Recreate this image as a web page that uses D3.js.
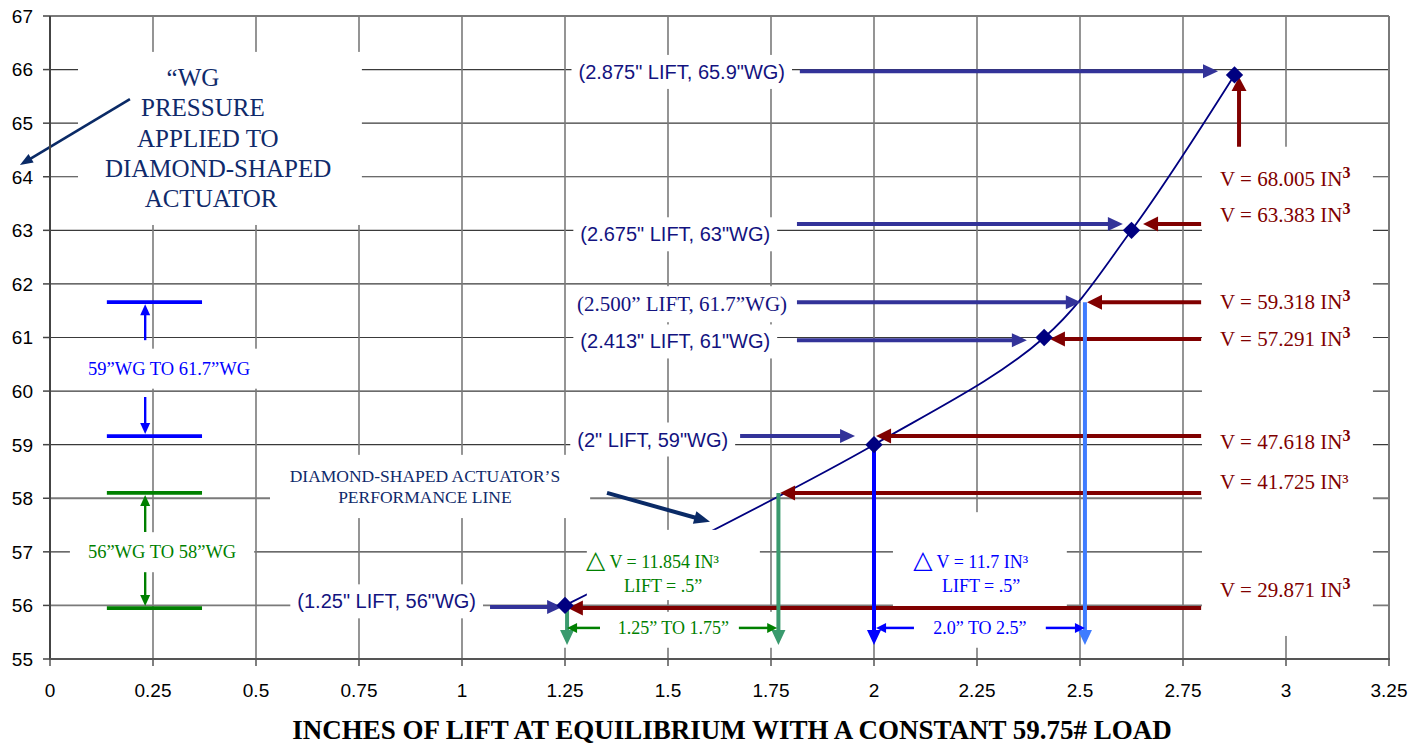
<!DOCTYPE html>
<html>
<head>
<meta charset="utf-8">
<script src="https://cdn.jsdelivr.net/npm/d3@7"></script>
<style>
  body { margin: 0; background: #fff; }
  svg { display: block; }
</style>
</head>
<body>
<svg id="chart" width="1428" height="745"></svg>
<script>
'use strict';

// performance line of the diamond-shaped actuator (diamond markers)
const lift = [1.25, 2.0, 2.413, 2.625, 2.875];
const wg = [56, 59, 61, 63, 65.9];

const xTicks = [0, 0.25, 0.5, 0.75, 1, 1.25, 1.5, 1.75, 2, 2.25, 2.5, 2.75, 3, 3.25];
const xTickLabels = ['0', '0.25', '0.5', '0.75', '1', '1.25', '1.5', '1.75', '2', '2.25', '2.5', '2.75', '3', '3.25'];
const yTicks = [55, 56, 57, 58, 59, 60, 61, 62, 63, 64, 65, 66, 67];

// lift call-outs (label -> point)
const liftNotes = ['(1.25" LIFT, 56"WG)', '(2" LIFT, 59"WG)', '(2.413" LIFT, 61"WG)',
  '(2.500\u201D LIFT, 61.7\u201DWG)', '(2.675" LIFT, 63"WG)', '(2.875" LIFT, 65.9"WG)'];
const liftNoteWG = [56.08, 59.1, 60.93, 61.62, 62.93, 65.96];
const liftNoteEnd = [1.034, 1.646, 1.748, 1.789, 1.748, 1.784];
const liftArrowWG = [55.97, 59.16, 60.95, 61.66, 63.12, 65.97];
const liftArrowFrom = [1.068, 1.675, 1.813, 1.813, 1.813, 1.82];
const liftArrowTo = [1.243, 1.954, 2.371, 2.502, 2.604, 2.835];

// volume call-outs (label <- point)
const volumes = ['68.005', '63.383', '59.318', '57.291', '47.618', '41.725', '29.871'];
const volLabelWG = [63.95, 63.28, 61.66, 60.97, 59.04, 58.3, 56.28];
const volArrowWG = [null, 63.12, 61.66, 60.97, 59.16, 58.1, 55.95];
const volArrowTip = [null, 2.653, 2.517, 2.427, 2.005, 1.772, 1.257];
const volUpLift = 2.886;
const volUpWG = [64.56, 65.86];

// drop lines down to the lift axis
const dropLift = [1.255, 1.768, 2.0, 2.512];
const dropFromWG = [55.95, 58.1, 59.0, 61.66];
const dropToWG = 55.26;

// lift spans
const spanWG = 55.58;
const greenSpan = [1.255, 1.765];
const greenSpanGap = [1.335, 1.672];
const blueSpan = [2.005, 2.512];
const blueSpanGap = [2.097, 2.417];

// pressure ranges on the left
const rangeBlueWG = [59.16, 61.66];
const rangeGreenWG = [55.95, 58.1];
const rangeLift = [0.138, 0.369];
const rangeArrowLift = 0.231;
const rangeBlueGap = [59.89, 60.95];
const rangeGreenGap = [56.62, 57.37];

const x = d3.scaleLinear().domain([0, 3.25]).range([50, 1389]);
const y = d3.scaleLinear().domain([55, 67]).range([659, 16]);

const SANS = 'Liberation Sans, Arial, sans-serif';
const SERIF = 'Liberation Serif, Times New Roman, serif';
const NAVY_TXT = '#0f2a6b';
const LIFT_TXT = '#131380';
const PURPLE = '#333399';
const RED = '#800000';
const GREEN = '#008000';
const SEA = '#3a9a6e';
const BLUE = '#0000ff';
const LBLUE = '#3f7cff';

const svg = d3.select('#chart');
const gridG = svg.append('g');
const curveG = svg.append('g');
const boxG = svg.append('g');
const textG = svg.append('g');
const arrowG = svg.append('g');
const markG = svg.append('g');
const axisG = svg.append('g');

// grid
gridG.selectAll('line.h').data(yTicks).enter().append('line')
  .attr('x1', x(0)).attr('x2', x(3.25))
  .attr('y1', d => y(d)).attr('y2', d => y(d))
  .attr('stroke', d => (d === 67 || d === 56 || d === 58 ? '#7a7a7a' : '#3a3a3a'))
  .attr('stroke-width', d => (d === 67 ? 2 : d === 56 || d === 58 ? 1.8 : 1.1));
gridG.selectAll('line.v').data(xTicks.slice(1)).enter().append('line')
  .attr('x1', d => x(d)).attr('x2', d => x(d))
  .attr('y1', y(67)).attr('y2', y(55))
  .attr('stroke', '#7a7a7a').attr('stroke-width', d => (d === 3.25 ? 2 : 1.6));

// performance line
const pts = lift.map((d, i) => [d, wg[i]]);
curveG.append('path')
  .datum(pts)
  .attr('d', d3.line().x(d => x(d[0])).y(d => y(d[1])).curve(d3.curveCatmullRom))
  .attr('fill', 'none').attr('stroke', '#000080').attr('stroke-width', 1.8);

function arrow(x1, y1, x2, y2, color, w, hl, hw) {
  const dx = x2 - x1, dy = y2 - y1, len = Math.hypot(dx, dy);
  const ux = dx / len, uy = dy / len;
  const bx = x2 - ux * hl, by = y2 - uy * hl;
  arrowG.append('line')
    .attr('x1', x1).attr('y1', y1).attr('x2', bx + ux).attr('y2', by + uy)
    .attr('stroke', color).attr('stroke-width', w);
  arrowG.append('path')
    .attr('d', `M${x2},${y2}L${bx - uy * hw / 2},${by + ux * hw / 2}L${bx + uy * hw / 2},${by - ux * hw / 2}Z`)
    .attr('fill', color);
}

function rect(x0, x1, y0, y1) {
  boxG.append('rect')
    .attr('x', x(x0)).attr('y', y(y0))
    .attr('width', x(x1) - x(x0)).attr('height', y(y1) - y(y0))
    .attr('fill', '#fff');
}

function boxed(t, px, py) {
  const b = t.node().getBBox();
  boxG.append('rect')
    .attr('x', b.x - px).attr('y', b.y - py)
    .attr('width', b.width + 2 * px).attr('height', b.height + 2 * py)
    .attr('fill', '#fff');
}

// "WG pressure" note
rect(0.068, 0.757, 66.33, 63.10);
const wgLines = ['\u201CWG', 'PRESSURE', 'APPLIED TO', 'DIAMOND-SHAPED', 'ACTUATOR'];
const wgCx = [0.347, 0.371, 0.383, 0.408, 0.391];
wgLines.forEach((s, i) => {
  textG.append('text')
    .attr('x', x(wgCx[i])).attr('y', y(65.69) + i * 30.3)
    .attr('text-anchor', 'middle')
    .attr('font-family', SERIF).attr('font-size', 25).attr('fill', NAVY_TXT)
    .text(s);
});
arrow(x(0.194), y(65.45), x(-0.073), y(64.22), '#0a2a66', 2.6, 13, 10);

// performance line note
rect(0.534, 1.311, 58.81, 57.63);
['DIAMOND-SHAPED ACTUATOR\u2019S', 'PERFORMANCE LINE'].forEach((s, i) => {
  textG.append('text')
    .attr('x', x(0.91)).attr('y', y(58.30) + i * 21)
    .attr('text-anchor', 'middle')
    .attr('font-family', SERIF).attr('font-size', 17.5).attr('fill', NAVY_TXT)
    .text(s);
});
arrow(x(1.352), y(58.1), x(1.602), y(57.56), '#0a2a66', 4, 16, 13);

// lift call-outs
liftNotes.forEach((s, i) => {
  const serif = s.indexOf('\u201D') >= 0;
  const t = textG.append('text')
    .attr('x', x(liftNoteEnd[i])).attr('y', y(liftNoteWG[i]))
    .attr('dy', serif ? '0.33em' : '0.36em')
    .attr('text-anchor', 'end')
    .attr('font-family', serif ? SERIF : SANS)
    .attr('font-size', serif ? 21 : 20)
    .attr('fill', LIFT_TXT)
    .text(s);
  boxed(t, 7, 6);
  arrow(x(liftArrowFrom[i]), y(liftArrowWG[i]), x(liftArrowTo[i]), y(liftArrowWG[i]), PURPLE, 4, 15, 14);
});

// volume call-outs
rect(2.796, 3.211, 64.56, 55.43);
volumes.forEach((v, i) => {
  const t = textG.append('text')
    .attr('x', x(2.84)).attr('y', y(volLabelWG[i])).attr('dy', '0.33em')
    .attr('font-family', SERIF).attr('font-size', 21).attr('fill', RED);
  if (v === '41.725') {
    t.text(`V = ${v} IN\u00B3`);
  } else {
    t.append('tspan').text(`V = ${v} IN`);
    t.append('tspan').attr('font-weight', 'bold').attr('font-size', 16).attr('dy', -8).text('3');
  }
  if (volArrowWG[i] !== null) {
    arrow(x(2.794), y(volArrowWG[i]), x(volArrowTip[i]), y(volArrowWG[i]), RED, 4, 15, 15);
  }
});
arrow(x(volUpLift), y(volUpWG[0]), x(volUpLift), y(volUpWG[1]), RED, 4, 14, 15);

// delta-V notes and spans
rect(1.303, 1.723, 57.41, 56.10);
rect(1.238, 1.760, 55.88, 55.21);
rect(2.046, 2.468, 57.74, 55.21);

function deltaNote(x0, cx2, color, vol) {
  const t = textG.append('text')
    .attr('x', x(x0)).attr('y', y(56.69))
    .attr('font-family', SERIF).attr('font-size', 18).attr('fill', color);
  t.append('tspan').attr('font-family', 'DejaVu Sans').attr('font-size', 25).text('\u25B3');
  t.append('tspan').text(` V = ${vol} IN\u00B3`);
  textG.append('text')
    .attr('x', x(cx2)).attr('y', y(56.25))
    .attr('text-anchor', 'middle')
    .attr('font-family', SERIF).attr('font-size', 18).attr('fill', color)
    .text('LIFT = .5\u201D');
}
deltaNote(1.301, 1.488, GREEN, '11.854');
deltaNote(2.095, 2.26, BLUE, '11.7');

textG.append('text')
  .attr('x', x(1.513)).attr('y', y(spanWG)).attr('dy', '0.33em')
  .attr('text-anchor', 'middle')
  .attr('font-family', SERIF).attr('font-size', 18).attr('fill', GREEN)
  .text('1.25\u201D TO 1.75\u201D');
textG.append('text')
  .attr('x', x(2.257)).attr('y', y(spanWG)).attr('dy', '0.33em')
  .attr('text-anchor', 'middle')
  .attr('font-family', SERIF).attr('font-size', 18).attr('fill', BLUE)
  .text('2.0\u201D TO 2.5\u201D');

// drop lines
const dropColor = [SEA, SEA, BLUE, LBLUE];
dropLift.forEach((d, i) => {
  arrow(x(d), y(dropFromWG[i]), x(d), y(dropToWG), dropColor[i], 4, 15, 14);
});

arrow(x(greenSpanGap[0]), y(spanWG), x(greenSpan[0]), y(spanWG), GREEN, 2.5, 10, 10);
arrow(x(greenSpanGap[1]), y(spanWG), x(greenSpan[1]), y(spanWG), GREEN, 2.5, 10, 10);
arrow(x(blueSpanGap[0]), y(spanWG), x(blueSpan[0]), y(spanWG), BLUE, 2.5, 10, 10);
arrow(x(blueSpanGap[1]), y(spanWG), x(blueSpan[1]), y(spanWG), BLUE, 2.5, 10, 10);

// pressure ranges on the left
function range(vals, gap, color, label, cx) {
  const t = textG.append('text')
    .attr('x', x(cx)).attr('y', y((gap[0] + gap[1]) / 2)).attr('dy', '0.33em')
    .attr('text-anchor', 'middle')
    .attr('font-family', SERIF).attr('font-size', 18.5).attr('fill', color)
    .text(label);
  boxed(t, 18, 10);
  vals.forEach(v => {
    arrowG.append('line')
      .attr('x1', x(rangeLift[0])).attr('x2', x(rangeLift[1]))
      .attr('y1', y(v)).attr('y2', y(v))
      .attr('stroke', color).attr('stroke-width', 3.6);
  });
  arrow(x(rangeArrowLift), y(gap[1]), x(rangeArrowLift), y(vals[1]) + 2, color, 2.4, 11, 10);
  arrow(x(rangeArrowLift), y(gap[0]), x(rangeArrowLift), y(vals[0]) - 2, color, 2.4, 11, 10);
}
range(rangeBlueWG, rangeBlueGap, BLUE, '59\u201DWG TO 61.7\u201DWG', 0.289);
range(rangeGreenWG, rangeGreenGap, GREEN, '56\u201DWG TO 58\u201DWG', 0.272);

// diamond markers
markG.selectAll('path').data(pts).enter().append('path')
  .attr('d', d3.symbol(d3.symbolSquare, 150))
  .attr('transform', d => `translate(${x(d[0])},${y(d[1])}) rotate(45)`)
  .attr('fill', '#000080');

// axes
axisG.append('line')
  .attr('x1', x(0)).attr('x2', x(0)).attr('y1', y(67)).attr('y2', y(55) + 1)
  .attr('stroke', '#444').attr('stroke-width', 2);
axisG.append('line')
  .attr('x1', x(0) - 1).attr('x2', x(3.25) + 1).attr('y1', y(55)).attr('y2', y(55))
  .attr('stroke', '#555').attr('stroke-width', 2.2);
axisG.selectAll('line.yt').data(yTicks).enter().append('line')
  .attr('x1', x(0) - 7).attr('x2', x(0))
  .attr('y1', d => y(d)).attr('y2', d => y(d))
  .attr('stroke', '#444').attr('stroke-width', 1.5);
axisG.selectAll('line.xt').data(xTicks).enter().append('line')
  .attr('x1', d => x(d)).attr('x2', d => x(d))
  .attr('y1', y(55)).attr('y2', y(55) + 7)
  .attr('stroke', '#555').attr('stroke-width', 1.5);
axisG.selectAll('text.yl').data(yTicks).enter().append('text')
  .attr('x', 33).attr('y', d => y(d)).attr('dy', '0.36em')
  .attr('text-anchor', 'end')
  .attr('font-family', SANS).attr('font-size', 19).attr('fill', '#000')
  .text(d => d);
axisG.selectAll('text.xl').data(xTicks).enter().append('text')
  .attr('x', d => x(d)).attr('y', 697)
  .attr('text-anchor', 'middle')
  .attr('font-family', SANS).attr('font-size', 19).attr('fill', '#000')
  .text((d, i) => xTickLabels[i]);
axisG.append('text')
  .attr('x', 732).attr('y', 739)
  .attr('text-anchor', 'middle')
  .attr('font-family', SERIF).attr('font-weight', 'bold').attr('font-size', 27).attr('fill', '#000')
  .text('INCHES OF LIFT AT EQUILIBRIUM WITH A CONSTANT 59.75# LOAD');
</script>
</body>
</html>
